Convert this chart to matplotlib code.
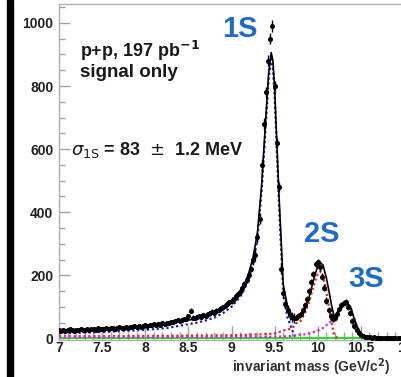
import numpy as np
import matplotlib
matplotlib.use("Agg")
import matplotlib.pyplot as plt
from matplotlib.patches import Rectangle

# ---------------- data ----------------
mass_start, mass_step = 7.0, 0.025
counts = [
    27, 24, 28, 25, 27, 29, 26, 24, 28, 27,
    29, 26, 28, 31, 27, 29, 30, 28, 32, 29,
    31, 30, 33, 29, 32, 34, 31, 33, 35, 32,
    34, 36, 33, 37, 35, 38, 36, 39, 37, 40,
    41, 39, 43, 42, 45, 43, 47, 44, 48, 46,
    50, 48, 53, 51, 55, 57, 54, 59, 62, 60,
    70, 88, 66, 64, 68, 71, 69, 74, 72, 77,
    80, 84, 82, 88, 91, 95, 99, 104, 108, 114,
    120, 126, 133, 140, 148, 160, 172, 185, 200, 220,
    250, 265, 320, 380, 550, 680, 780, 880, 950, 990,
    800, 620, 480, 220, 145, 110, 90, 75, 68, 66,
    66, 70, 78, 90, 105, 125, 150, 180, 205, 235,
    242, 225, 195, 160, 120, 90, 70, 62, 65, 78,
    92, 105, 112, 115, 100, 80, 55, 40, 28, 18,
    12, 8, 5, 4, 3, 2, 3, 2, 1, 2,
    1, 2, 1, 1, 2, 1, 1, 0, 1, 1,
]
err_per_group = [5, 5, 5, 5, 6, 6, 7, 8, 10, 18, 16, 9, 11, 9, 5, 3]

fit_x = [7.0, 7.5, 8.0, 8.25, 8.5, 8.6, 8.7, 8.8, 8.9, 9.0, 9.1, 9.15, 9.2, 9.25,
         9.3, 9.35, 9.4, 9.43, 9.46, 9.48, 9.5, 9.55, 9.6, 9.65, 9.7, 9.72, 9.75,
         9.8, 9.85, 9.9, 9.95, 10.0, 10.03, 10.06, 10.1, 10.13, 10.16, 10.19,
         10.22, 10.25, 10.3, 10.34, 10.38, 10.42, 10.46, 10.5, 10.55, 10.6, 10.7, 11.0]
fit_1s = [16, 20, 27, 33, 45, 50, 57, 66, 80, 100, 132, 155, 190, 240,
          315, 470, 690, 820, 885, 860, 770, 430, 140, 65, 30, 15, 0,
          0, 0, 0, 0, 0, 0, 0, 0, 0, 0, 0,
          0, 0, 0, 0, 0, 0, 0, 0, 0, 0, 0, 0]
fit_2s = [7, 7, 8, 8, 9, 9, 9, 10, 10, 10, 11, 11, 12, 12,
          13, 13, 14, 14, 15, 15, 16, 20, 25, 28, 32, 38, 48,
          55, 80, 115, 165, 205, 212, 200, 150, 100, 50, 10,
          3, 0, 0, 0, 0, 0, 0, 0, 0, 0, 0, 0]
fit_3s = [4, 4, 4, 4, 4, 4, 4, 4, 5, 5, 5, 5, 5, 5,
          5, 5, 5, 5, 6, 6, 6, 6, 6, 7, 8, 9, 10,
          12, 13, 16, 20, 25, 28, 33, 42, 50, 55, 60,
          72, 88, 105, 112, 100, 65, 35, 15, 5, 0, 0, 0]

y_ticks = [0, 200, 400, 600, 800, 1000]
x_ticks = [7, 7.5, 8, 8.5, 9, 9.5, 10, 10.5, 11]
x_tick_labels = ["7", "7.5", "8", "8.5", "9", "9.5", "10", "10.5", "11"]

# ---------------- figure ----------------
W, H = 401, 377
fig = plt.figure(figsize=(W / 100, H / 100), dpi=100)
fig.patch.set_facecolor("white")
fig.patches.append(Rectangle((7 / W, 0), 6 / W, 1, transform=fig.transFigure,
                             color="black", zorder=0))

ax = fig.add_axes([59 / W, 1 - 340 / H, (404 - 59) / W, 336 / H])
ax.set_xlim(7, 11)
ax.set_ylim(-5, 1060)

mass = mass_start + mass_step * np.arange(len(counts))
errs = np.repeat(err_per_group, 10)[:len(counts)]

fx = np.array(fit_x)
c1, c2, c3 = np.array(fit_1s), np.array(fit_2s), np.array(fit_3s)
total = c1 + c2 + c3

ax.axhline(0, color="#22dd22", lw=1.4, zorder=2)
ax.plot(fx, total, color="black", lw=1.2, zorder=4)

def last(arr):
    nz = np.nonzero(arr)[0]
    return nz[-1] + 2

ax.plot(fx[:last(c1)], c1[:last(c1)], color="#1a1acc", ls=(0, (1, 1.2)), lw=1.6, zorder=3)
ax.plot(fx[:last(c2)], c2[:last(c2)], color="#ee2222", ls=(0, (1, 1.2)), lw=1.6, zorder=3)
ax.plot(fx[:last(c3)], c3[:last(c3)], color="#dd22dd", ls=(0, (1, 1.2)), lw=1.6, zorder=3)

ax.errorbar(mass, counts, yerr=errs, fmt="o", color="black", ms=2.6,
            elinewidth=1.0, capsize=0, zorder=5)

# axes styling
for s in ax.spines.values():
    s.set_color("#b0b0b0")
    s.set_linewidth(1.0)
ax.set_yticks(y_ticks)
ax.set_yticks(np.arange(0, 1060, 50), minor=True)
ax.set_xticks(x_ticks)
ax.set_xticklabels(x_tick_labels)
ax.set_xticks(np.arange(7, 11.01, 0.1), minor=True)
ax.tick_params(which="both", direction="in", color="#a0a0a0", width=1.0)
ax.tick_params(axis="y", which="major", length=8, pad=4)
ax.tick_params(axis="y", which="minor", length=4)
ax.tick_params(axis="x", which="major", length=10, pad=1)
ax.tick_params(axis="x", which="minor", length=6)
for lab in ax.get_xticklabels() + ax.get_yticklabels():
    lab.set_fontfamily("Liberation Sans")
    lab.set_fontweight("bold")
    lab.set_fontsize(10)
    lab.set_color("#222222")

def px(x, y):
    return x / W, 1 - y / H

tfont = dict(family="Liberation Sans", weight="bold", color="#1a1a1a")
fig.text(*px(80, 57), r"p+p, 197 pb$^{\mathbf{-1}}$", fontsize=13, **tfont)
fig.text(*px(80, 77), "signal only", fontsize=13.5, **tfont)
fig.text(*px(71, 155), r"$\sigma_{\rm 1S}$ = 83  $\pm$  1.2 MeV", fontsize=13, **tfont)

bfont = dict(family="Liberation Sans", weight="bold", color="#1e6cc8", fontsize=21)
fig.text(*px(222, 37), "1S", **bfont)
fig.text(*px(304, 242), "2S", **bfont)
fig.text(*px(348, 287), "3S", **bfont)

fig.text(*px(232, 372), r"invariant mass (GeV/c$^{\mathbf{2}}$)", fontsize=10,
         family="Liberation Sans", weight="bold", color="#333333")

fig.savefig("out.png", dpi=100)
